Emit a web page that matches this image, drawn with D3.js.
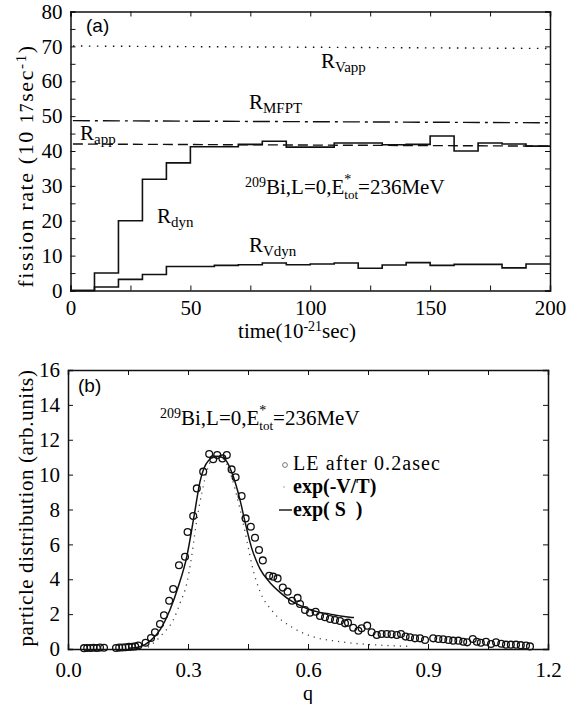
<!DOCTYPE html>
<html>
<head>
<meta charset="utf-8">
<script src="https://cdn.jsdelivr.net/npm/d3@7"></script>
<style>
  body { margin: 0; background: #fff; }
  svg text { font-family: "Liberation Serif", "Times New Roman", serif; fill: #000; }
</style>
</head>
<body>
<svg id="fig" width="574" height="704"></svg>
<script>
// ---- panel (a): fission rate vs time ----
const timeBins = [0, 10, 20, 30, 40, 50, 60, 70, 80, 90, 100, 110, 120, 130, 140, 150, 160, 170, 180, 190, 200];
const rDyn  = [0, 5.0, 20.0, 31.9, 36.6, 41.2, 41.2, 41.9, 42.8, 41.1, 41.1, 42.3, 42.3, 41.8, 41.9, 44.3, 40.0, 42.3, 42.0, 41.4];
const rVdyn = [0, 1.0, 3.2, 4.6, 6.9, 6.9, 7.2, 7.4, 7.9, 7.4, 7.6, 7.9, 6.4, 7.3, 8.0, 7.2, 7.5, 7.5, 6.5, 7.6];
const refTimes = [1, 200];
const rVapp = [70.1, 69.4];
const rMfpt = [48.7, 48.1];
const rApp  = [42.0, 41.4];
const timeTicks = [0, 25, 50, 75, 100, 125, 150, 175, 200];
const rateTicks = [0, 5, 10, 15, 20, 25, 30, 35, 40, 45, 50, 55, 60, 65, 70, 75, 80];

// ---- panel (b): particle distribution vs q ----
const leQ = [0.040, 0.048, 0.056, 0.064, 0.072, 0.080, 0.090, 0.120, 0.128, 0.136, 0.144, 0.152, 0.160, 0.168, 0.176,
  0.194, 0.2075, 0.2175, 0.230, 0.240, 0.253, 0.263, 0.2775, 0.2925, 0.299, 0.313, 0.322, 0.338, 0.353, 0.363, 0.373,
  0.386, 0.397, 0.409, 0.419, 0.434, 0.444, 0.457, 0.4675, 0.4775, 0.487, 0.503, 0.513, 0.524, 0.537, 0.549, 0.560,
  0.574, 0.580, 0.5925, 0.605, 0.619, 0.630, 0.6425, 0.655, 0.6675, 0.680, 0.6925, 0.700, 0.713, 0.726, 0.734, 0.748,
  0.759, 0.772, 0.784, 0.797, 0.809, 0.822, 0.8325, 0.844, 0.855, 0.8675, 0.880, 0.8925, 0.913, 0.926, 0.938, 0.951,
  0.963, 0.976, 0.988, 0.998, 1.012, 1.022, 1.032, 1.045, 1.0575, 1.070, 1.083, 1.095, 1.107, 1.120, 1.132, 1.145, 1.155];
const leVal = [0.05, 0.06, 0.06, 0.07, 0.06, 0.08, 0.07, 0.06, 0.08, 0.09, 0.10, 0.12, 0.13, 0.15, 0.20,
  0.36, 0.63, 0.96, 1.43, 1.93, 2.77, 3.44, 4.80, 5.29, 6.71, 7.63, 9.21, 10.17, 11.18, 10.88, 11.12,
  10.93, 11.12, 10.30, 9.85, 8.77, 7.49, 7.01, 6.38, 5.68, 5.08, 4.20, 4.15, 4.05, 3.52, 3.29, 2.77,
  2.93, 2.58, 2.24, 2.08, 2.14, 1.89, 1.82, 1.72, 1.66, 1.61, 1.47, 1.51, 1.22, 1.05, 1.19, 1.34,
  0.96, 0.80, 0.86, 0.86, 0.84, 0.80, 0.86, 0.71, 0.67, 0.61, 0.61, 0.52, 0.61, 0.57, 0.56, 0.52,
  0.48, 0.48, 0.42, 0.38, 0.57, 0.42, 0.36, 0.42, 0.29, 0.38, 0.30, 0.25, 0.25, 0.25, 0.22, 0.20, 0.15];
const expSQ   = [0.150, 0.180, 0.205, 0.230, 0.255, 0.276, 0.297, 0.315, 0.330, 0.351, 0.372, 0.385, 0.397, 0.413, 0.430,
  0.4425, 0.459, 0.470, 0.480, 0.505, 0.530, 0.555, 0.580, 0.605, 0.630, 0.655, 0.680, 0.705, 0.715];
const expSVal = [0.04, 0.13, 0.45, 1.10, 2.25, 3.60, 5.30, 7.60, 9.60, 10.80, 11.05, 11.00, 10.75, 9.90, 8.55,
  7.30, 5.80, 5.10, 4.60, 3.80, 3.25, 2.80, 2.50, 2.25, 2.10, 2.00, 1.90, 1.82, 1.80];
const expVTQ   = [0.200, 0.213, 0.238, 0.263, 0.280, 0.297, 0.309, 0.320, 0.335, 0.350, 0.365, 0.380, 0.395, 0.410, 0.425,
  0.440, 0.450, 0.460, 0.480, 0.510, 0.560, 0.610, 0.670, 0.740, 0.820, 0.860];
const expVTVal = [0.10, 0.33, 0.90, 1.66, 2.62, 3.77, 5.29, 7.10, 9.00, 10.40, 11.00, 11.05, 10.70, 9.80, 8.50,
  7.00, 5.90, 4.80, 3.30, 2.20, 1.25, 0.72, 0.45, 0.28, 0.18, 0.15];
const qTicks = [0, 0.15, 0.3, 0.45, 0.6, 0.75, 0.9, 1.05, 1.2];
const qLabels = [0, 0.3, 0.6, 0.9, 1.2];
const distTicks = [0, 2, 4, 6, 8, 10, 12, 14, 16];

const SERIF = '"Liberation Serif", "Times New Roman", serif';
const SANS = '"Liberation Sans", Arial, sans-serif';

const svg = d3.select('#fig');

// draws a boxed frame with inward ticks on all four sides
function drawFrame(g, x, y, xTicks, yTicks, xFmt, yFmt, xPad) {
  const [x0, x1] = x.range();
  const [y0, y1] = y.range();
  g.append('g').attr('transform', `translate(0,${y0})`)
    .call(d3.axisBottom(x).tickValues(xTicks).tickSize(-5).tickPadding(xPad).tickFormat(xFmt));
  g.append('g').attr('transform', `translate(0,${y1})`)
    .call(d3.axisTop(x).tickValues(xTicks).tickSize(-5).tickFormat(''));
  g.append('g').attr('transform', `translate(${x0},0)`)
    .call(d3.axisLeft(y).tickValues(yTicks).tickSize(-5).tickPadding(8).tickFormat(yFmt));
  g.append('g').attr('transform', `translate(${x1},0)`)
    .call(d3.axisRight(y).tickValues(yTicks).tickSize(-5).tickFormat(''));
  g.selectAll('.domain').attr('stroke', '#111').attr('stroke-width', 1.5);
  g.selectAll('.tick line').attr('stroke', '#111').attr('stroke-width', 1);
  g.selectAll('.tick text')
    .attr('font-family', SERIF)
    .attr('font-size', 21)
    .style('font-family', SERIF)
    .attr('fill', '#000');
}

// label with sub/superscript parts: [text, size, dy]
function richText(g, x, y, parts, anchor) {
  const t = g.append('text').attr('x', x).attr('y', y)
    .attr('font-family', SERIF).style('font-family', SERIF)
    .attr('text-anchor', anchor || 'start');
  parts.forEach(p => {
    const s = t.append('tspan').text(p[0]).style('font-size', p[1] + 'px');
    if (p[2]) s.attr('dy', p[2]);
  });
  return t;
}

// 209Bi,L=0,E*tot=236MeV with the star stacked above "tot"
function reaction(g, x, y) {
  const t = richText(g, x, y, [['209', 14, -7], ['Bi,L=0,E', 21, 7], ['tot', 13, 5], ['=236MeV', 21, -5]]);
  const start = t.node().getStartPositionOfChar(11);
  g.append('text').attr('x', start.x).attr('y', y - 10)
    .style('font-family', SERIF).style('font-size', '14px').text('*');
}

// ================= panel (a) =================
const ga = svg.append('g');
const xa = d3.scaleLinear().domain([0, 200]).range([70.5, 550]);
const ya = d3.scaleLinear().domain([0, 80]).range([290.5, 11.5]);

drawFrame(ga, xa, ya, timeTicks, rateTicks,
  d => d % 50 === 0 ? d : '', d => d % 10 === 0 ? d : '', 10);

const stepLine = d3.line().x(d => xa(d[0])).y(d => ya(d[1])).curve(d3.curveStepAfter);
const stepPts = vals => timeBins.map((t, i) => [t, vals[Math.min(i, vals.length - 1)]]);

ga.append('path').datum(stepPts(rDyn))
  .attr('fill', 'none').attr('stroke', '#111').attr('stroke-width', 1.6).attr('d', stepLine);
ga.append('path').datum(stepPts(rVdyn))
  .attr('fill', 'none').attr('stroke', '#111').attr('stroke-width', 1.6).attr('d', stepLine);

const refLine = d3.line().x(d => xa(d[0])).y(d => ya(d[1]));
[[rVapp, '1.5,6.5'], [rMfpt, '17,5,3,5'], [rApp, '10,5']].forEach(([vals, dash]) => {
  ga.append('path').datum(refTimes.map((t, i) => [t, vals[i]]))
    .attr('fill', 'none').attr('stroke', '#111').attr('stroke-width', 1.4)
    .attr('stroke-dasharray', dash).attr('d', refLine);
});

ga.append('text').attr('x', 86).attr('y', 32)
  .style('font-family', SANS).style('font-size', '19px').text('(a)');

richText(ga, 321, 68, [['R', 21], ['Vapp', 15, 4]]);
richText(ga, 249, 109, [['R', 21], ['MFPT', 15, 4]]);
richText(ga, 80, 140, [['R', 21], ['app', 15, 4]]);
richText(ga, 157, 223, [['R', 21], ['dyn', 15, 4]]);
richText(ga, 249, 252, [['R', 21], ['Vdyn', 15, 4]]);

reaction(ga, 245, 194);

richText(ga, 297, 338, [['time(10', 21], ['-21', 14, -7], ['sec)', 21, 7]], 'middle');

richText(ga, 0, 0, [['fission rate (10 ', 22], ['17', 18], ['sec', 22], ['-1', 15, -7], [')', 22, 7]], 'middle')
  .style('letter-spacing', '1.6px')
  .attr('transform', 'translate(33,166) rotate(-90)');

// ================= panel (b) =================
const gb = svg.append('g');
const xb = d3.scaleLinear().domain([0, 1.2]).range([68, 548]);
const yb = d3.scaleLinear().domain([0, 16]).range([649, 370]);

drawFrame(gb, xb, yb, qTicks, distTicks,
  d => qLabels.some(v => Math.abs(v - d) < 1e-9) ? d3.format('.1f')(d) : '', d => d, 13);

const curve = d3.line().x(d => xb(d[0])).y(d => yb(d[1])).curve(d3.curveMonotoneX);

gb.append('path').datum(expVTQ.map((q, i) => [q, expVTVal[i]]))
  .attr('fill', 'none').attr('stroke', '#444').attr('stroke-width', 1.3)
  .attr('stroke-dasharray', '1.2,5').attr('d', curve);

gb.append('path').datum(expSQ.map((q, i) => [q, expSVal[i]]))
  .attr('fill', 'none').attr('stroke', '#111').attr('stroke-width', 1.5).attr('d', curve);

gb.append('g').selectAll('circle')
  .data(leQ.map((q, i) => [q, leVal[i]]))
  .join('circle')
  .attr('cx', d => xb(d[0])).attr('cy', d => yb(d[1])).attr('r', 3.4)
  .attr('fill', 'none').attr('stroke', '#111').attr('stroke-width', 1.3);

gb.append('text').attr('x', 78).attr('y', 392)
  .style('font-family', SANS).style('font-size', '19px').text('(b)');

reaction(gb, 160, 425);

// legend
gb.append('circle').attr('cx', 285).attr('cy', 465).attr('r', 2.4)
  .attr('fill', 'none').attr('stroke', '#777').attr('stroke-width', 1);
gb.append('text').attr('x', 293).attr('y', 470).style('font-family', SERIF).style('font-size', '20px')
  .style('letter-spacing', '1.1px').text('LE after 0.2asec');
gb.append('circle').attr('cx', 284).attr('cy', 487).attr('r', 0.8).attr('fill', '#999');
gb.append('text').attr('x', 293).attr('y', 493).style('font-family', SERIF).style('font-size', '20px')
  .style('font-weight', 'bold').text('exp(-V/T)');
gb.append('line').attr('x1', 279).attr('x2', 292).attr('y1', 510).attr('y2', 510)
  .attr('stroke', '#111').attr('stroke-width', 1.4);
gb.append('text').attr('x', 293).attr('y', 516).style('font-family', SERIF).style('font-size', '20px')
  .style('font-weight', 'bold').style('white-space', 'pre').text('exp( S  )');

gb.append('text').attr('x', 308).attr('y', 700).attr('text-anchor', 'middle')
  .style('font-family', SERIF).style('font-size', '20px').text('q');
gb.append('text').attr('text-anchor', 'middle')
  .attr('transform', 'translate(33,508) rotate(-90)')
  .style('font-family', SERIF).style('font-size', '21px').style('letter-spacing', '0.6px')
  .text('particle distribution (arb.units)');
</script>
</body>
</html>
